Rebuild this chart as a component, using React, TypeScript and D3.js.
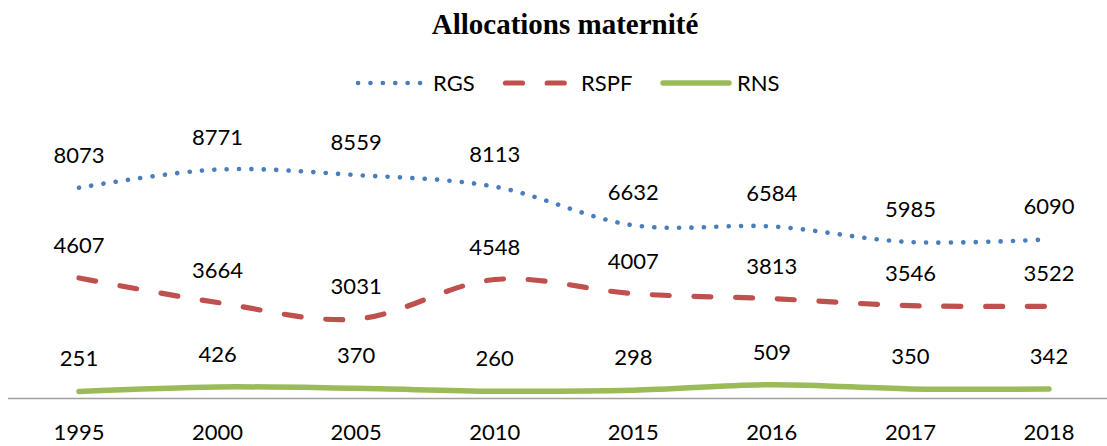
import React from "react";
import * as d3 from "d3";

const categories = ["1995", "2000", "2005", "2010", "2015", "2016", "2017", "2018"];
const rgs = [8073, 8771, 8559, 8113, 6632, 6584, 5985, 6090];
const rspf = [4607, 3664, 3031, 4548, 4007, 3813, 3546, 3522];
const rns = [251, 426, 370, 260, 298, 509, 350, 342];
const seriesNames = ["RGS", "RSPF", "RNS"];

const W = 1107;
const H = 446;
const FONT = "Lato, 'Open Sans', sans-serif";

export default function App() {
  const x = d3.scalePoint<string>().domain(categories).range([79, 1049]);
  const y = d3.scaleLinear().domain([0, 10000]).range([398, 137.5]);
  const line = d3
    .line<number>()
    .x((_, i) => x(categories[i]) as number)
    .y((d) => y(d))
    .curve(d3.curveCatmullRom.alpha(0.5));

  const series = [
    { name: seriesNames[0], data: rgs, color: "#4A7EBB", width: 4.6, dash: "0.1 12.3" },
    { name: seriesNames[1], data: rspf, color: "#C0504D", width: 5.2, dash: "17 24.7" },
    { name: seriesNames[2], data: rns, color: "#9BBB59", width: 5.5, dash: "" },
  ];

  const legend = [
    { x1: 358, x2: 421, tx: 433 },
    { x1: 505.5, x2: 566, tx: 581 },
    { x1: 663, x2: 729, tx: 737 },
  ];

  return (
    <svg width={W} height={H} style={{ position: "absolute", left: 0, top: 0, background: "#fff" }}>
      <text
        x={565}
        y={34}
        textAnchor="middle"
        fontFamily="'Liberation Serif', serif"
        fontWeight="bold"
        fontSize={29}
        fill="#000"
      >
        Allocations maternité
      </text>

      {series.map((s, i) => (
        <g key={s.name}>
          <line
            x1={legend[i].x1}
            x2={legend[i].x2}
            y1={83}
            y2={83}
            stroke={s.color}
            strokeWidth={s.width}
            strokeDasharray={s.dash || undefined}
            strokeLinecap="round"
          />
          <text x={legend[i].tx} y={91} fontFamily={FONT} fontSize={22} fill="#000">
            {s.name}
          </text>
        </g>
      ))}

      <line x1={8} x2={W} y1={398.5} y2={398.5} stroke="#A0A0A0" strokeWidth={1.5} />

      {series.map((s) => (
        <path
          key={s.name}
          d={line(s.data) || ""}
          fill="none"
          stroke={s.color}
          strokeWidth={s.width}
          strokeDasharray={s.dash || undefined}
          strokeLinecap="round"
          strokeLinejoin="round"
        />
      ))}

      {series.map((s) =>
        s.data.map((v, i) => (
          <text
            key={s.name + i}
            x={x(categories[i]) as number}
            y={y(v) - 25}
            textAnchor="middle"
            fontFamily={FONT}
            fontSize={22}
            fill="#000"
          >
            {v}
          </text>
        ))
      )}

      {categories.map((c) => (
        <text
          key={c}
          x={x(c) as number}
          y={440}
          textAnchor="middle"
          fontFamily={FONT}
          fontSize={22}
          fill="#000"
        >
          {c}
        </text>
      ))}
    </svg>
  );
}
